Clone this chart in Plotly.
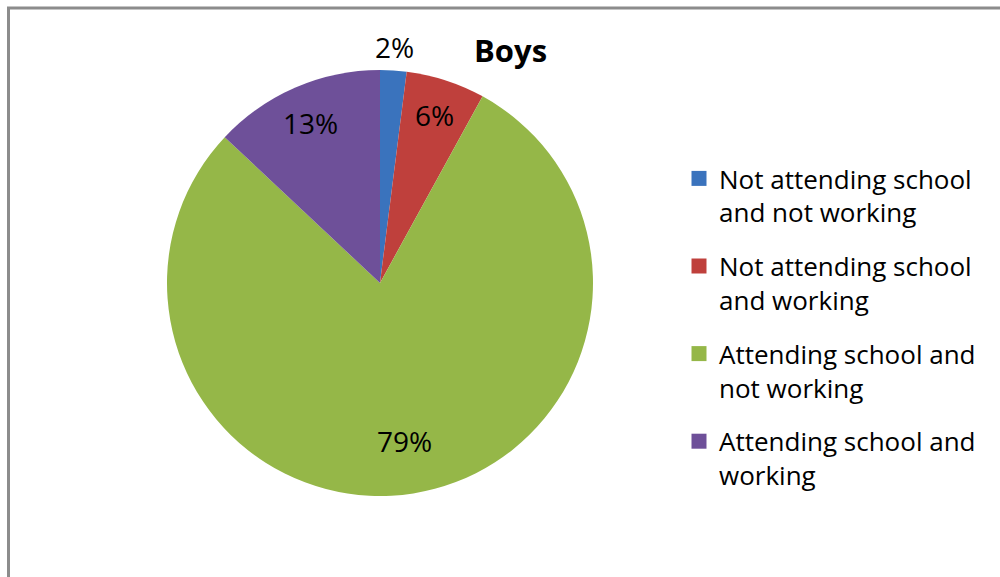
import math
import plotly.graph_objects as go

# Activity status of boys (shares in percent)
categories = [
    "Not attending school<br>and not working",
    "Not attending school<br>and working",
    "Attending school and<br>not working",
    "Attending school and<br>working",
]
shares = [2, 6, 79, 13]
slice_colors = ["#3a73bd", "#bf403c", "#95b748", "#6e5099"]

# radial placement of each percentage label, as a fraction of the pie radius
label_radius = [1.11, 0.83, 0.75, 0.82]

FONT = "Open Sans"
W, H = 1000, 577

# pie geometry in pixels
cx, cy, r = 380, 283, 213

fig = go.Figure()
fig.add_trace(
    go.Pie(
        labels=categories,
        values=shares,
        sort=False,
        direction="clockwise",
        rotation=0,
        marker=dict(colors=slice_colors, line=dict(width=0)),
        textinfo="none",
        hoverinfo="label+percent",
        showlegend=False,
        domain=dict(
            x=[(cx - r) / W, (cx + r) / W],
            y=[(H - cy - r) / H, (H - cy + r) / H],
        ),
    )
)

# legend entries with square swatches
for name, color in zip(categories, slice_colors):
    fig.add_trace(
        go.Scatter(
            x=[None],
            y=[None],
            mode="markers",
            name=name,
            legendgroup=name,
            marker=dict(symbol="square", size=15, color=color),
            hoverinfo="skip",
        )
    )

# percentage labels placed at each slice's mid angle
annotations = []
total = sum(shares)
cum = 0.0
for value, rf in zip(shares, label_radius):
    mid = (cum + value / 2) / total * 2 * math.pi
    cum += value
    px = cx + rf * r * math.sin(mid)
    py = cy - rf * r * math.cos(mid)
    annotations.append(
        dict(
            text=f"{round(value / total * 100)}%",
            x=px / W,
            y=1 - py / H,
            xref="paper",
            yref="paper",
            xanchor="center",
            yanchor="middle",
            showarrow=False,
            font=dict(family=FONT, size=28, color="#000000"),
        )
    )

annotations.append(
    dict(
        text="<b>Boys</b>",
        x=510 / W,
        y=1 - 50 / H,
        xref="paper",
        yref="paper",
        xanchor="center",
        yanchor="middle",
        showarrow=False,
        font=dict(family=FONT, size=31, color="#000000"),
    )
)

fig.update_layout(
    width=W,
    height=H,
    margin=dict(l=0, r=0, t=0, b=0),
    paper_bgcolor="#ffffff",
    plot_bgcolor="#ffffff",
    font=dict(family=FONT, color="#000000"),
    xaxis=dict(visible=False),
    yaxis=dict(visible=False),
    showlegend=True,
    legend=dict(
        x=0.679,
        y=1 - 155 / H,
        xanchor="left",
        yanchor="top",
        valign="top",
        font=dict(family=FONT, size=26, color="#000000"),
        bgcolor="rgba(0,0,0,0)",
        traceorder="grouped",
        tracegroupgap=17,
    ),
    annotations=annotations,
    shapes=[
        dict(
            type="rect",
            xref="paper",
            yref="paper",
            x0=8.5 / W,
            x1=1.02,
            y0=-0.05,
            y1=1 - 8 / H,
            line=dict(color="#8c8c8c", width=3),
            fillcolor="rgba(0,0,0,0)",
        )
    ],
)

fig.write_html("out.html")
